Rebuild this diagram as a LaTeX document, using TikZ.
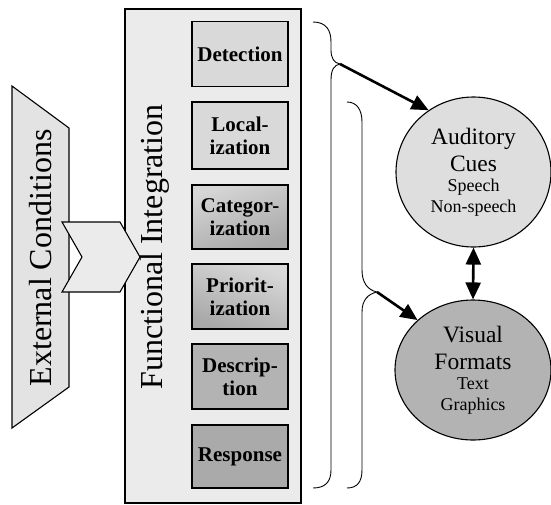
\documentclass[tikz,border=0pt]{standalone}
\usepackage{fontspec}
\setmainfont{Liberation Serif}
\usetikzlibrary{arrows.meta,shapes.geometric}
\definecolor{panelgray}{HTML}{EBEBEB}
\definecolor{extgray}{HTML}{E3E3E3}
\definecolor{chevgray}{HTML}{EBEBEB}
\definecolor{boxlight}{HTML}{D9D9D9}
\definecolor{boxmidtop}{HTML}{D6D6D6}
\definecolor{boxmidbot}{HTML}{A8A8A8}
\definecolor{boxdesc}{HTML}{B3B3B3}
\definecolor{boxresp}{HTML}{AAAAAA}
\definecolor{audgray}{HTML}{DEDEDE}
\definecolor{visgray}{HTML}{B3B3B3}
\newcommand{\titlefont}{\fontsize{23.5}{27}\selectfont}
\newcommand{\subfont}{\fontsize{18}{21}\selectfont}
\tikzset{
  stagebox/.style={draw=black, line width=1.4pt, rectangle, minimum width=96pt, minimum height=65pt, inner sep=0pt, align=center, font=\fontsize{21}{23}\selectfont\bfseries},
  outlineshape/.style={draw=black, line width=1.1pt},
  bracestroke/.style={draw=black, line width=0.9pt},
  bigarrow/.style={line width=2.6pt, -{Triangle[length=17pt,width=15pt]}, shorten >=0pt},
  dblarrow/.style={line width=2.6pt, {Triangle[length=17pt,width=15pt]}-{Triangle[length=17pt,width=15pt]}},
  cuebubble/.style={draw=black, line width=1.1pt, ellipse, inner sep=0pt, align=center, font=\subfont},
  bigtitle/.style={font=\fontsize{32}{36}\selectfont, inner sep=0pt}
}
\begin{document}
\begin{tikzpicture}[x=1pt,y=-1pt]
\useasboundingbox (0,0) rectangle (551,504);
% external conditions shape
\path[outlineshape, fill=extgray] (12,86) -- (69,128) -- (69,387) -- (12,428) -- cycle;
\node[bigtitle, rotate=90] (ext) at (41,258) {External Conditions};
% functional integration panel
\node[draw=black, line width=1.1pt, fill=panelgray, rectangle, minimum width=176pt, minimum height=494pt, inner sep=0pt] (panel) at (213,256) {};
% chevron
\path[outlineshape, fill=chevgray] (62,222) -- (120,222) -- (140,257) -- (120,292) -- (62,292) -- (82,257) -- cycle;
\node[bigtitle, rotate=90] (fitext) at (155,247) {Functional Integration};
% stage boxes
\node[stagebox, fill=boxlight] (det) at (240,54) {Detection};
\node[stagebox, fill=boxlight, minimum height=67pt] (loc) at (240,135.5) {Local-\\ization};
\node[stagebox, top color=boxmidtop, bottom color=boxmidbot, shading angle=20, minimum height=64pt] (cat) at (240,217) {Categor-\\ization};
\node[stagebox, top color=boxlight, bottom color=boxmidbot, shading angle=-20] (pri) at (240,296.5) {Priorit-\\ization};
\node[stagebox, fill=boxdesc] (des) at (240,376.5) {Descrip-\\tion};
\node[stagebox, fill=boxresp, minimum height=63pt] (res) at (240,456.5) {Response};
% braces
\coordinate (tipA) at (340,64);
\coordinate (tipB) at (377,292);
\draw[bracestroke] (313,22) .. controls (326,22) and (331,30) .. (331,42) -- (331,50)
  .. controls (331,58) and (334,63) .. (tipA)
  .. controls (334,65) and (331,70) .. (331,80) -- (331,470)
  .. controls (331,482) and (325,488) .. (313,488);
\draw[bracestroke] (347,102) .. controls (357,102) and (362,110) .. (362,122) -- (362,270)
  .. controls (362,283) and (368,290) .. (tipB)
  .. controls (368,294) and (362,300) .. (362,312) -- (362,470)
  .. controls (362,482) and (357,488) .. (347,488);
% ellipses
\node[cuebubble, fill=audgray, minimum width=155pt, minimum height=150pt] (aud) at (473.5,172)
  {{\titlefont Auditory}\\[6pt]{\titlefont Cues}\\[-1pt]Speech\\Non-speech};
\node[cuebubble, fill=visgray, minimum width=156pt, minimum height=140pt] (vis) at (473,370)
  {{\titlefont Visual}\\[6pt]{\titlefont Formats}\\[-1pt]Text\\Graphics};
% arrows
\draw[bigarrow] (tipA) -- (aud.126);
\draw[bigarrow] (tipB) -- (vis.138);
\draw[dblarrow] (aud.south) -- (vis.north);
\end{tikzpicture}
\end{document}
